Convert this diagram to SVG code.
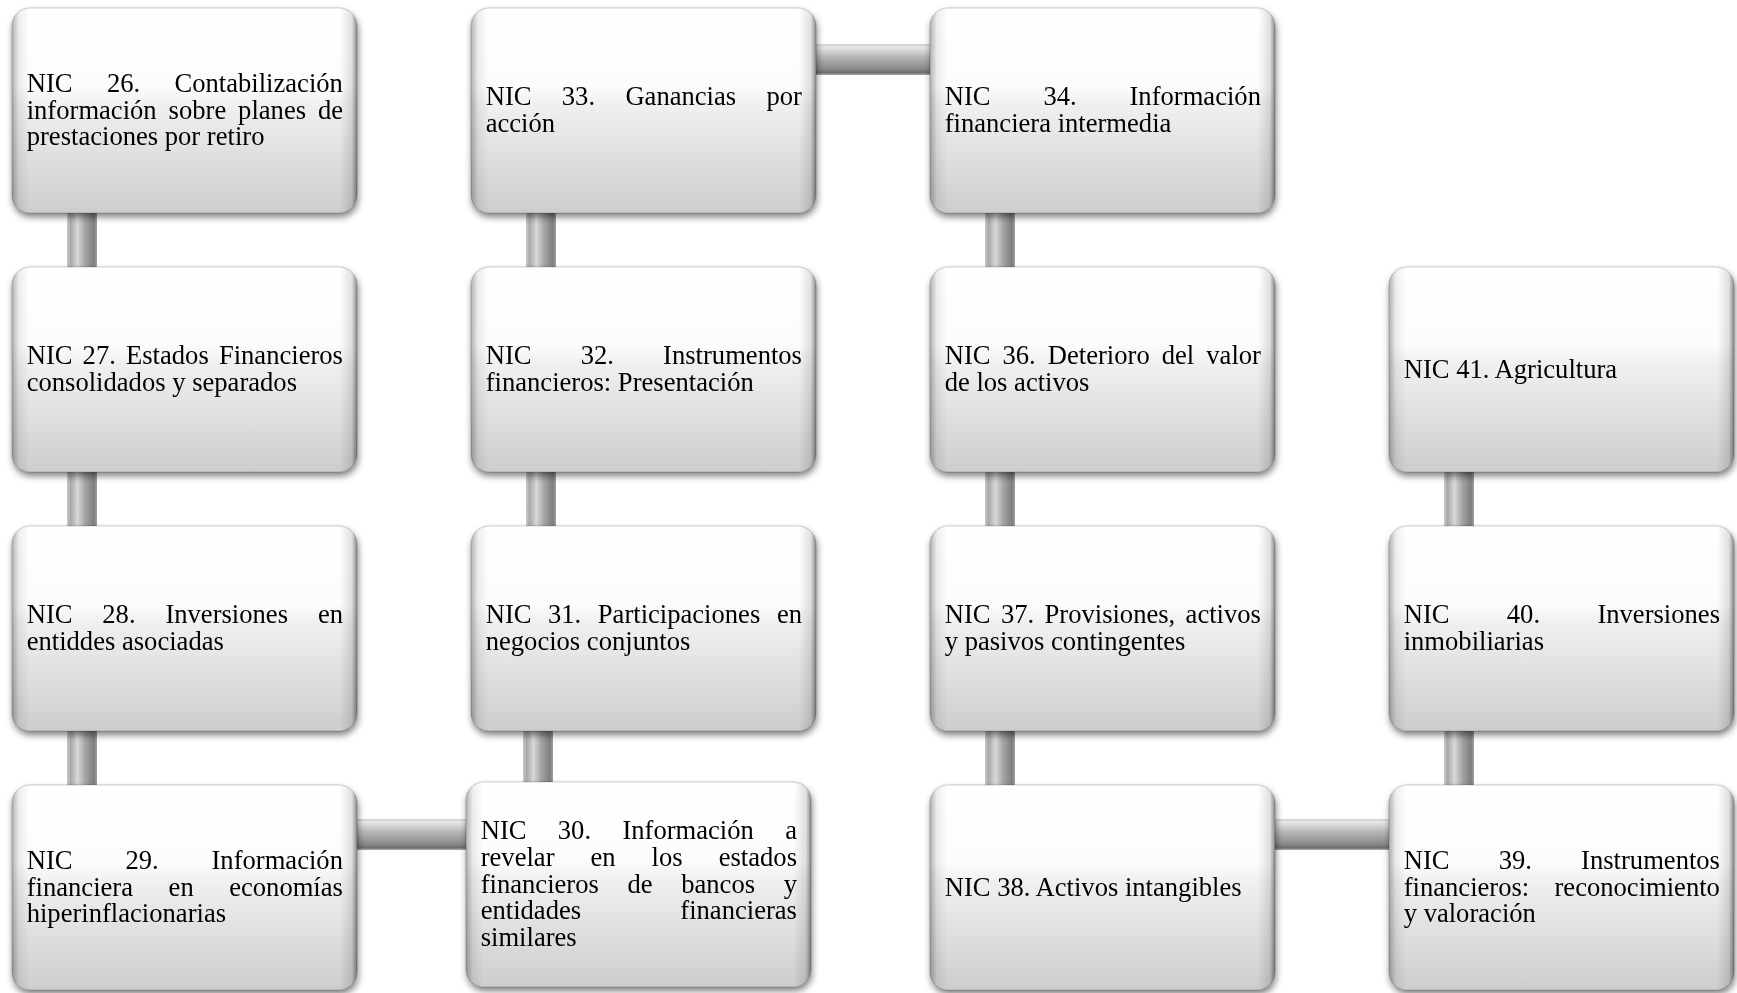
<svg xmlns="http://www.w3.org/2000/svg" width="1737" height="993" viewBox="0 0 1737 993">
  <defs>
    <style>
      .t { font-family: "Liberation Serif", "Times New Roman", serif; font-size: 26.6px; fill: #000; }
      .box { fill: url(#boxFill); stroke: rgba(0,0,0,0.18); stroke-width: 1; }
      .edge { fill: url(#boxEdge); }
      .vbar { fill: url(#vBar); }
      .hbar { fill: url(#hBar); }
    </style>
    <linearGradient id="boxFill" x1="0" y1="0" x2="0" y2="1">
      <stop offset="0" stop-color="#ffffff"/>
      <stop offset="0.38" stop-color="#fcfcfc"/>
      <stop offset="0.47" stop-color="#f0f0f0"/>
      <stop offset="1" stop-color="#cdcdcd"/>
    </linearGradient>
    <linearGradient id="boxEdge" x1="0" y1="0" x2="1" y2="0">
      <stop offset="0" stop-color="#000" stop-opacity="0.3"/>
      <stop offset="0.02" stop-color="#000" stop-opacity="0.07"/>
      <stop offset="0.05" stop-color="#000" stop-opacity="0"/>
      <stop offset="0.95" stop-color="#000" stop-opacity="0"/>
      <stop offset="0.985" stop-color="#000" stop-opacity="0.12"/>
      <stop offset="1" stop-color="#000" stop-opacity="0.45"/>
    </linearGradient>
    <linearGradient id="vBar" x1="0" y1="0" x2="1" y2="0">
      <stop offset="0" stop-color="#c9c9c9"/>
      <stop offset="0.12" stop-color="#a9a9a9"/>
      <stop offset="0.35" stop-color="#d8d8d8"/>
      <stop offset="0.6" stop-color="#a6a6a6"/>
      <stop offset="0.9" stop-color="#7e7e7e"/>
      <stop offset="1" stop-color="#a0a0a0"/>
    </linearGradient>
    <linearGradient id="hBar" x1="0" y1="0" x2="0" y2="1">
      <stop offset="0" stop-color="#cfcfcf"/>
      <stop offset="0.1" stop-color="#e6e6e6"/>
      <stop offset="0.4" stop-color="#b9b9b9"/>
      <stop offset="0.8" stop-color="#8a8a8a"/>
      <stop offset="0.93" stop-color="#6e6e6e"/>
      <stop offset="1" stop-color="#b0b0b0"/>
    </linearGradient>
    <filter id="shadow" x="-5%" y="-5%" width="112%" height="115%">
      <feGaussianBlur in="SourceAlpha" stdDeviation="3.5"/>
      <feOffset dx="1" dy="4" result="b"/>
      <feComponentTransfer in="b" result="s">
        <feFuncA type="linear" slope="0.5"/>
      </feComponentTransfer>
      <feMerge>
        <feMergeNode in="s"/>
        <feMergeNode in="SourceGraphic"/>
      </feMerge>
    </filter>
  </defs>

  <rect width="1737" height="993" fill="#ffffff"/>

  <!-- connectors: the chain runs down column 1, up column 2, down column 3, up column 4 -->
  <g id="connectors">
    <rect class="vbar" x="67" y="205" width="30" height="70"/>
    <rect class="vbar" x="67" y="464" width="30" height="70"/>
    <rect class="vbar" x="67" y="723" width="30" height="70"/>
    <rect class="hbar" x="350" y="819" width="125" height="31"/>
    <rect class="vbar" x="523" y="723" width="30" height="70"/>
    <rect class="vbar" x="526" y="464" width="30" height="70"/>
    <rect class="vbar" x="526" y="205" width="30" height="70"/>
    <rect class="hbar" x="805" y="44" width="135" height="31"/>
    <rect class="vbar" x="985" y="205" width="30" height="70"/>
    <rect class="vbar" x="985" y="464" width="30" height="70"/>
    <rect class="vbar" x="985" y="723" width="30" height="70"/>
    <rect class="hbar" x="1268" y="819" width="130" height="31"/>
    <rect class="vbar" x="1444" y="723" width="30" height="70"/>
    <rect class="vbar" x="1444" y="464" width="30" height="70"/>
  </g>

  <!-- column 1 -->
  <g id="nic26" filter="url(#shadow)">
    <rect class="box" x="12" y="8" width="345" height="205" rx="18"/>
    <rect class="edge" x="12" y="8" width="345" height="205" rx="18"/>
    <text class="t"><tspan x="26.7" y="91.8">NIC</tspan><tspan x="106.9">26.</tspan><tspan x="174.5">Contabilización</tspan><tspan x="26.7" y="118.5">información</tspan><tspan x="168.6">sobre</tspan><tspan x="238.1">planes</tspan><tspan x="317.9">de</tspan><tspan x="26.7" y="145.2">prestaciones por retiro</tspan></text>
  </g>
  <g id="nic27" filter="url(#shadow)">
    <rect class="box" x="12" y="267" width="345" height="205" rx="18"/>
    <rect class="edge" x="12" y="267" width="345" height="205" rx="18"/>
    <text class="t"><tspan x="26.7" y="364.2">NIC</tspan><tspan x="82.6">27.</tspan><tspan x="126">Estados</tspan><tspan x="218.9">Financieros</tspan><tspan x="26.7" y="390.9">consolidados y separados</tspan></text>
  </g>
  <g id="nic28" filter="url(#shadow)">
    <rect class="box" x="12" y="526" width="345" height="205" rx="18"/>
    <rect class="edge" x="12" y="526" width="345" height="205" rx="18"/>
    <text class="t"><tspan x="26.7" y="623.2">NIC</tspan><tspan x="102.3">28.</tspan><tspan x="165.4">Inversiones</tspan><tspan x="317.9">en</tspan><tspan x="26.7" y="649.9">entiddes asociadas</tspan></text>
  </g>
  <g id="nic29" filter="url(#shadow)">
    <rect class="box" x="12" y="785" width="345" height="205" rx="18"/>
    <rect class="edge" x="12" y="785" width="345" height="205" rx="18"/>
    <text class="t"><tspan x="26.7" y="868.8">NIC</tspan><tspan x="125.4">29.</tspan><tspan x="211.5">Información</tspan><tspan x="26.7" y="895.5">financiera</tspan><tspan x="168.6">en</tspan><tspan x="229.2">economías</tspan><tspan x="26.7" y="922.2">hiperinflacionarias</tspan></text>
  </g>

  <!-- column 2 -->
  <g id="nic30" filter="url(#shadow)">
    <rect class="box" x="466" y="782" width="345" height="205" rx="18"/>
    <rect class="edge" x="466" y="782" width="345" height="205" rx="18"/>
    <text class="t"><tspan x="480.7" y="839.1">NIC</tspan><tspan x="557.8">30.</tspan><tspan x="622.4">Información</tspan><tspan x="785.2">a</tspan><tspan x="480.7" y="865.8">revelar</tspan><tspan x="590.5">en</tspan><tspan x="651.6">los</tspan><tspan x="718.7">estados</tspan><tspan x="480.7" y="892.5">financieros</tspan><tspan x="627.5">de</tspan><tspan x="681.2">bancos</tspan><tspan x="783.7">y</tspan><tspan x="480.7" y="919.2">entidades</tspan><tspan x="680.3">financieras</tspan><tspan x="480.7" y="945.9">similares</tspan></text>
  </g>
  <g id="nic31" filter="url(#shadow)">
    <rect class="box" x="471" y="526" width="345" height="205" rx="18"/>
    <rect class="edge" x="471" y="526" width="345" height="205" rx="18"/>
    <text class="t"><tspan x="485.7" y="623.2">NIC</tspan><tspan x="548">31.</tspan><tspan x="597.8">Participaciones</tspan><tspan x="776.9">en</tspan><tspan x="485.7" y="649.9">negocios conjuntos</tspan></text>
  </g>
  <g id="nic32" filter="url(#shadow)">
    <rect class="box" x="471" y="267" width="345" height="205" rx="18"/>
    <rect class="edge" x="471" y="267" width="345" height="205" rx="18"/>
    <text class="t"><tspan x="485.7" y="364.2">NIC</tspan><tspan x="580.7">32.</tspan><tspan x="663.1">Instrumentos</tspan><tspan x="485.7" y="390.9">financieros: Presentación</tspan></text>
  </g>
  <g id="nic33" filter="url(#shadow)">
    <rect class="box" x="471" y="8" width="345" height="205" rx="18"/>
    <rect class="edge" x="471" y="8" width="345" height="205" rx="18"/>
    <text class="t"><tspan x="485.7" y="105.2">NIC</tspan><tspan x="561.8">33.</tspan><tspan x="625.4">Ganancias</tspan><tspan x="766.5">por</tspan><tspan x="485.7" y="131.9">acción</tspan></text>
  </g>

  <!-- column 3 -->
  <g id="nic34" filter="url(#shadow)">
    <rect class="box" x="930" y="8" width="345" height="205" rx="18"/>
    <rect class="edge" x="930" y="8" width="345" height="205" rx="18"/>
    <text class="t"><tspan x="944.7" y="105.2">NIC</tspan><tspan x="1043.4">34.</tspan><tspan x="1129.5">Información</tspan><tspan x="944.7" y="131.9">financiera intermedia</tspan></text>
  </g>
  <g id="nic36" filter="url(#shadow)">
    <rect class="box" x="930" y="267" width="345" height="205" rx="18"/>
    <rect class="edge" x="930" y="267" width="345" height="205" rx="18"/>
    <text class="t"><tspan x="944.7" y="364.2">NIC</tspan><tspan x="1002.5">36.</tspan><tspan x="1047.8">Deterioro</tspan><tspan x="1161.7">del</tspan><tspan x="1206.3">valor</tspan><tspan x="944.7" y="390.9">de los activos</tspan></text>
  </g>
  <g id="nic37" filter="url(#shadow)">
    <rect class="box" x="930" y="526" width="345" height="205" rx="18"/>
    <rect class="edge" x="930" y="526" width="345" height="205" rx="18"/>
    <text class="t"><tspan x="944.7" y="623.2">NIC</tspan><tspan x="1000.9">37.</tspan><tspan x="1044.5">Provisiones,</tspan><tspan x="1185.6">activos</tspan><tspan x="944.7" y="649.9">y pasivos contingentes</tspan></text>
  </g>
  <g id="nic38" filter="url(#shadow)">
    <rect class="box" x="930" y="785" width="345" height="205" rx="18"/>
    <rect class="edge" x="930" y="785" width="345" height="205" rx="18"/>
    <text class="t" x="944.7" y="895.5">NIC 38. Activos intangibles</text>
  </g>

  <!-- column 4 -->
  <g id="nic39" filter="url(#shadow)">
    <rect class="box" x="1389" y="785" width="345" height="205" rx="18"/>
    <rect class="edge" x="1389" y="785" width="345" height="205" rx="18"/>
    <text class="t"><tspan x="1403.7" y="868.8">NIC</tspan><tspan x="1498.7">39.</tspan><tspan x="1581.1">Instrumentos</tspan><tspan x="1403.7" y="895.5">financieros:</tspan><tspan x="1554.5">reconocimiento</tspan><tspan x="1403.7" y="922.2">y valoración</tspan></text>
  </g>
  <g id="nic40" filter="url(#shadow)">
    <rect class="box" x="1389" y="526" width="345" height="205" rx="18"/>
    <rect class="edge" x="1389" y="526" width="345" height="205" rx="18"/>
    <text class="t"><tspan x="1403.7" y="623.2">NIC</tspan><tspan x="1506.8">40.</tspan><tspan x="1597.4">Inversiones</tspan><tspan x="1403.7" y="649.9">inmobiliarias</tspan></text>
  </g>
  <g id="nic41" filter="url(#shadow)">
    <rect class="box" x="1389" y="267" width="345" height="205" rx="18"/>
    <rect class="edge" x="1389" y="267" width="345" height="205" rx="18"/>
    <text class="t" x="1403.7" y="377.5">NIC 41. Agricultura</text>
  </g>
</svg>
